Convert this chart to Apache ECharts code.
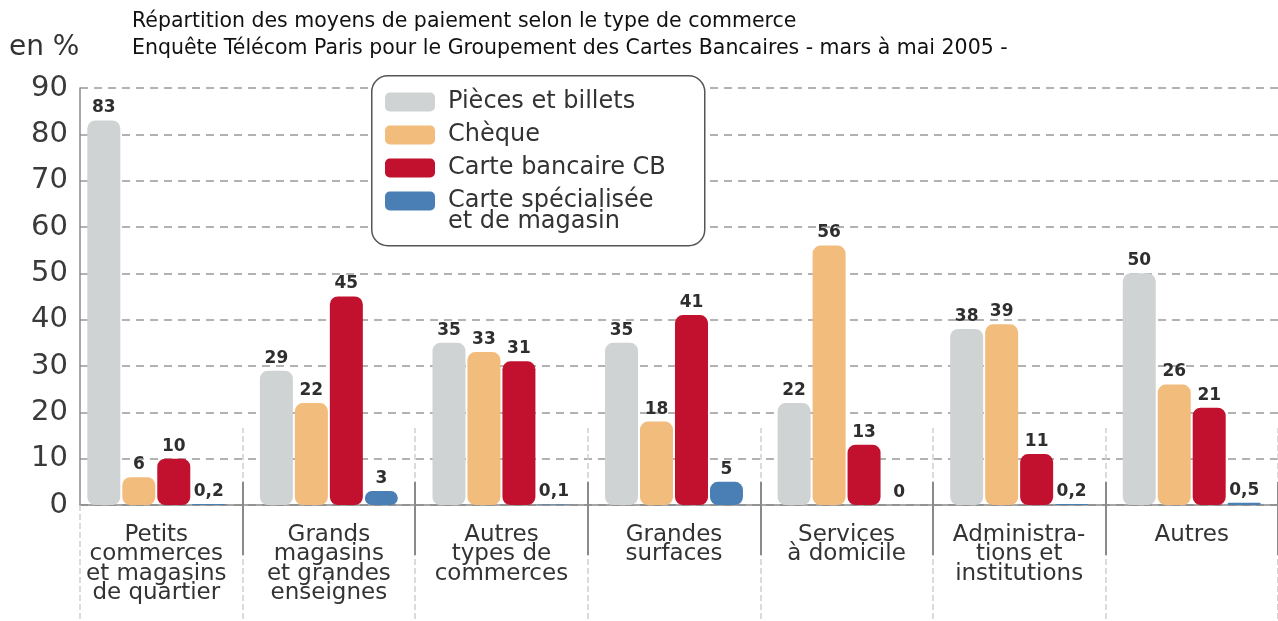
<!DOCTYPE html>
<html>
<head>
<meta charset="utf-8">
<script src="https://cdn.jsdelivr.net/npm/echarts@6/dist/echarts.min.js"></script>
<style>
  html, body { margin: 0; padding: 0; background: #fff; }
  #chart { width: 1278px; height: 621px; }
</style>
</head>
<body>
<div id="chart"></div>
<script>
const categories = [
    'Petits\ncommerces\net magasins\nde quartier',
    'Grands\nmagasins\net grandes\nenseignes',
    'Autres\ntypes de\ncommerces',
    'Grandes\nsurfaces',
    'Services\nà domicile',
    'Administra-\ntions et\ninstitutions',
    'Autres'
];
const seriesNames = ['Pièces et billets', 'Chèque', 'Carte bancaire CB', 'Carte spécialisée'];
const pieces = [83, 29, 35, 35, 22, 38, 50];
const cheque = [6, 22, 33, 18, 56, 39, 26];
const carteCB = [10, 45, 31, 41, 13, 11, 21];
const carteSpec = [0.2, 3, 0.1, 5, 0, 0.2, 0.5];
const yMax = 90;
const yStep = 10;

const colors = ['#d0d3d4', '#f2bc7d', '#c1112f', '#4a7fb6'];
const font = 'DejaVu Sans';

const chart = echarts.init(document.getElementById('chart'));

function makeSeries(name, data, color) {
    return {
        name: name,
        type: 'bar',
        xAxisIndex: 0,
        yAxisIndex: 0,
        data: data,
        barWidth: 33,
        barGap: '6%',
        itemStyle: {color: color, borderRadius: 8},
        label: {
            show: true,
            position: 'top',
            distance: 4,
            color: '#2e2e2e',
            fontFamily: font,
            fontWeight: 'bold',
            fontSize: 17,
            formatter: function (p) {
                return String(p.value).replace('.', ',');
            }
        }
    };
}

// separators between categories: solid part and dashed part, above and below the axis
function sepAxis(inside, len, type, color, z) {
    return {
        type: 'category',
        gridIndex: 0,
        position: 'bottom',
        offset: 0,
        z: z,
        data: categories,
        axisLine: {show: false},
        axisLabel: {show: false},
        axisTick: {
            show: true,
            inside: inside,
            length: len,
            interval: function (i) { return i > 0; },
            lineStyle: {color: color, width: type === 'solid' ? 2 : 1.5, type: type}
        }
    };
}

const titleStyle = {fontFamily: font, fontSize: 20.5, fontWeight: 'normal', color: '#111'};

const options = {
    animation: false,
    title: [
        {text: 'Répartition des moyens de paiement selon le type de commerce', left: 132, top: 11, padding: 0,
            textStyle: titleStyle},
        {text: 'Enquête Télécom Paris pour le Groupement des Cartes Bancaires - mars à mai 2005 -', left: 132, top: 38, padding: 0,
            textStyle: titleStyle},
        {text: 'en %', left: 9, top: 34, padding: 0,
            textStyle: {fontFamily: font, fontSize: 28, fontWeight: 'normal', color: '#333'}}
    ],
    legend: {
        orient: 'vertical',
        left: 385,
        top: 90,
        padding: 0,
        itemWidth: 50,
        itemHeight: 19,
        itemGap: 9,
        icon: 'roundRect',
        textStyle: {fontFamily: font, fontSize: 24, color: '#333', lineHeight: 19, padding: [0, 0, 0, 8]},
        data: seriesNames
    },
    graphic: [
        {
            type: 'rect',
            left: 371,
            top: 75,
            z: 3,
            shape: {x: 0, y: 0, width: 333, height: 170, r: 16},
            style: {fill: '#fff', stroke: '#555', lineWidth: 1.5}
        },
        {
            type: 'text',
            left: 448,
            top: 210,
            z: 5,
            style: {text: 'et de magasin', fill: '#333', font: '24px "DejaVu Sans"'}
        }
    ],
    grid: [
        {left: 70, right: -8, top: 88, bottom: 116},
        {left: 80, right: -8, top: 88, bottom: 116}
    ],
    xAxis: [
        {
            type: 'category',
            gridIndex: 0,
            position: 'bottom',
            offset: 0,
            z: 1,
            data: categories,
            axisLine: {show: false},
            axisTick: {
                show: true,
                length: 50,
                interval: function (i) { return i > 0; },
                lineStyle: {color: '#8a8a8a', width: 2}
            },
            axisLabel: {
                interval: 0,
                margin: 20,
                fontFamily: font,
                fontSize: 23,
                lineHeight: 19.5,
                color: '#333',
                verticalAlign: 'top'
            }
        },
        sepAxis(true, 23, 'solid', '#8a8a8a', 1),
        sepAxis(false, 115, 'dashed', '#cfcfcf', 0),
        sepAxis(true, 77, 'dashed', '#cfcfcf', 0),
        {
            type: 'category',
            gridIndex: 1,
            position: 'bottom',
            offset: 0,
            data: [''],
            axisLine: {show: true, lineStyle: {color: '#8a8a8a', width: 1.5}},
            axisLabel: {show: false},
            axisTick: {
                show: true,
                length: 115,
                interval: function (i) { return i === 0; },
                lineStyle: {color: '#cfcfcf', width: 1.5, type: 'dashed'}
            }
        }
    ],
    yAxis: [
        {type: 'value', gridIndex: 0, min: 0, max: yMax, interval: yStep, show: false},
        {
            type: 'value',
            gridIndex: 1,
            min: 0,
            max: yMax,
            interval: yStep,
            axisLine: {show: true, lineStyle: {color: '#8a8a8a', width: 1.5}},
            axisTick: {show: false},
            axisLabel: {margin: 12, fontFamily: font, fontSize: 29, color: '#3a3a3a'},
            splitLine: {show: true, lineStyle: {color: '#999', width: 1.5, type: [8, 6]}}
        }
    ],
    series: [
        makeSeries(seriesNames[0], pieces, colors[0]),
        makeSeries(seriesNames[1], cheque, colors[1]),
        makeSeries(seriesNames[2], carteCB, colors[2]),
        makeSeries(seriesNames[3], carteSpec, colors[3])
    ]
};

chart.setOption(options);
</script>
</body>
</html>
